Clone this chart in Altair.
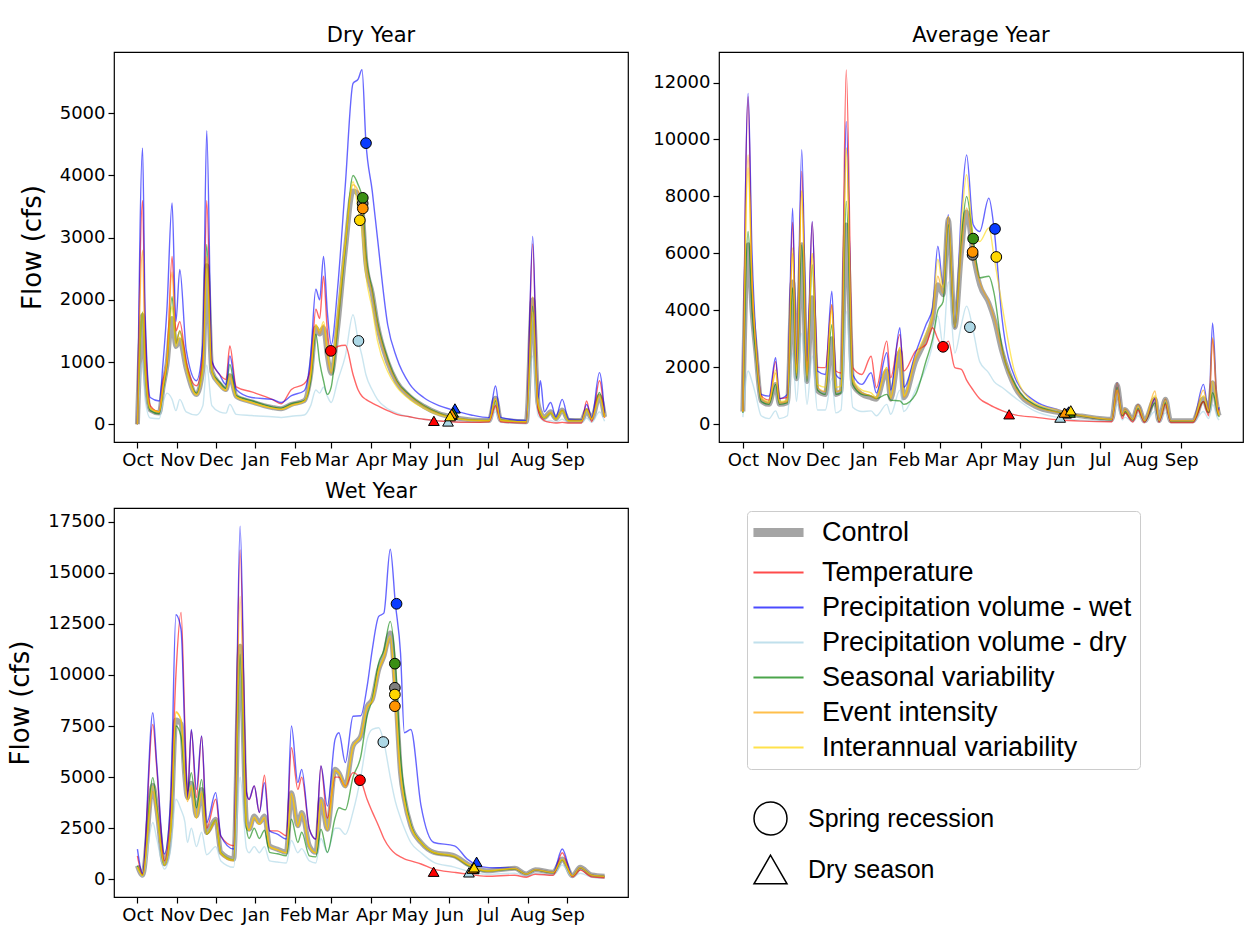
import altair as alt
import pandas as pd

SERIES = ["Control", "Temperature", "Precipitation volume - wet", "Precipitation volume - dry",
          "Seasonal variability", "Event intensity", "Interannual variability"]
LINE_COLORS = ["#808080", "#ff0000", "#0000ff", "#a6d4e4", "#008000", "#ffa500", "#ffd700"]
MARKER_FILLS = ["#7f7f7f", "#ff0000", "#0a3cff", "#add8e6", "#3a8f14", "#ff9400", "#ffd700"]
DRAW_ORDER = ["Precipitation volume - dry", "Seasonal variability", "Temperature",
              "Precipitation volume - wet", "Event intensity", "Interannual variability"]
KINDS = ["Spring recession", "\u2002Dry season"]

MONTH_DAYS = [0, 31, 61, 92, 123, 151, 182, 212, 243, 273, 304, 335]
MONTH_NAMES = ["Oct", "Nov", "Dec", "Jan", "Feb", "Mar", "Apr", "May", "Jun", "Jul", "Aug", "Sep"]

# ---------------- Dry year ----------------
dry_days = [0, 4, 6, 10, 17, 20, 23, 27, 30, 33, 38, 46, 51, 54, 58, 64, 69, 72, 77, 89, 105, 112, 120, 130, 135,
            139, 142, 145, 148, 151, 156, 162, 168, 172, 175, 178, 183, 187, 195, 202, 212, 223, 235, 244, 260,
            274, 279, 283, 303, 308, 312, 314, 317, 322, 326, 331, 336, 346, 350, 354, 360, 364]
dry_control = [0, 1750, 900, 230, 180, 600, 950, 1700, 1250, 1350, 900, 480, 900, 2550, 850, 650, 560, 780, 450, 360,
               270, 250, 320, 380, 800, 1550, 1450, 1550, 1100, 820, 1550, 2800, 3750, 3700, 3450, 2600, 2100, 1600,
               1000, 680, 450, 290, 170, 120, 70, 60, 420, 70, 40, 2000, 350, 200, 110, 200, 90, 230, 60, 60, 220,
               90, 450, 120]
dry_temperature = [0, 3600, 1500, 300, 200, 700, 1000, 2700, 1500, 1650, 1000, 620, 1100, 3600, 1000, 800, 720, 1260,
                   600, 520, 400, 330, 560, 650, 900, 1850, 1700, 2380, 1500, 1150, 1250, 1270, 800, 550, 450, 400,
                   340, 300, 220, 160, 120, 80, 55, 40, 30, 40, 300, 40, 20, 2900, 250, 120, 60, 30, 20, 30, 20, 20,
                   375, 40, 700, 100]
dry_precip_wet = [0, 4440, 1800, 430, 375, 1000, 1850, 3560, 1650, 2490, 1200, 700, 1300, 4720, 1020, 800, 640, 1100,
                  560, 430, 400, 350, 460, 540, 1100, 2170, 2000, 2700, 1800, 1280, 2190, 3850, 5480, 5550, 5700,
                  4550, 3745, 3000, 1600, 1070, 650, 430, 300, 240, 150, 107, 615, 110, 60, 3020, 400, 700, 200, 350,
                  120, 400, 80, 70, 320, 110, 830, 180]
dry_precip_dry = [0, 1000, 400, 100, 90, 350, 500, 400, 220, 400, 200, 150, 300, 950, 300, 200, 180, 320, 160, 140,
                  120, 110, 130, 150, 300, 550, 500, 600, 450, 350, 700, 1100, 1760, 1350, 1100, 800, 550, 400, 250,
                  180, 120, 80, 50, 40, 30, 30, 200, 30, 20, 1100, 150, 100, 50, 60, 30, 80, 20, 20, 100, 30, 200, 50]
dry_seasonal = [0, 1800, 900, 220, 170, 550, 950, 2050, 1300, 1500, 950, 500, 950, 2890, 850, 680, 580, 960, 460, 380,
                280, 260, 330, 380, 700, 1450, 1000, 700, 480, 600, 1550, 2850, 4000, 3850, 3650, 2750, 2150, 1650,
                1050, 700, 470, 300, 180, 120, 70, 60, 380, 70, 40, 1900, 320, 180, 100, 180, 90, 220, 60, 60, 240,
                90, 510, 120]
dry_event = [0, 2800, 1000, 260, 200, 600, 1000, 2450, 1300, 1500, 950, 480, 950, 2700, 850, 640, 540, 800, 440, 350,
             260, 240, 310, 370, 780, 1600, 1450, 1600, 1100, 820, 1600, 2900, 3850, 3750, 3470, 2650, 2100, 1600,
             1000, 680, 450, 290, 170, 120, 70, 60, 420, 70, 40, 2050, 350, 200, 110, 200, 90, 230, 60, 60, 250, 90,
             470, 120]
dry_interannual = [0, 1800, 850, 250, 200, 600, 1000, 1900, 1250, 1400, 900, 470, 900, 2500, 850, 620, 550, 750, 440,
                   350, 260, 240, 300, 370, 800, 1600, 1500, 1650, 1200, 850, 1800, 2900, 3900, 3450, 3100, 2400,
                   1850, 1350, 850, 600, 400, 260, 150, 110, 60, 55, 400, 60, 40, 1800, 330, 200, 100, 180, 80, 210,
                   50, 50, 230, 80, 440, 110]
dry_spring_day = [175.5, 150.7, 178.1, 172.2, 175.6, 175.6, 173.3]
dry_spring_flow = [3550, 1180, 4520, 1340, 3640, 3470, 3280]
dry_season_day = [245, 231, 247.4, 242, 246, 245, 243.6]
dry_season_flow = [150, 55, 255, 45, 190, 170, 130]

# ---------------- Average year ----------------
avg_days = [0, 4, 7, 10, 14, 20, 25, 28, 34, 38, 41, 45, 49, 53, 57, 63, 68, 71, 75, 79, 84, 91, 98, 102, 110, 113,
            120, 123, 132, 140, 145, 149, 153, 157, 162, 167, 171, 176, 181, 188, 192, 198, 208, 223, 242, 259, 282,
            286, 290, 292, 298, 302, 307, 315, 318, 323, 327, 344, 352, 356, 359, 363, 364]
avg_control = [450, 6300, 4000, 2500, 820, 700, 1400, 700, 760, 5000, 1600, 6300, 1500, 4440, 1170, 1050, 3000, 1050,
               1170, 7000, 1400, 1050, 930, 880, 1870, 880, 2550, 930, 2200, 3000, 3700, 4900, 4550, 7200, 3400, 6000,
               7450, 5950, 4900, 4250, 3700, 2550, 1300, 640, 400, 290, 175, 1400, 350, 520, 175, 640, 120, 880, 130,
               880, 120, 120, 900, 470, 1460, 470, 300]
avg_temperature = [450, 11500, 5000, 2800, 1000, 850, 2200, 900, 950, 7100, 2000, 8880, 1800, 7100, 2000, 1990, 4200,
                   1870, 1800, 12440, 1990, 1750, 2390, 1285, 2920, 1635, 3150, 1870, 2570, 2800, 3390, 3000, 2720,
                   2920, 1990, 1930, 1550, 1200, 900, 700, 600, 480, 330, 250, 150, 110, 90, 1200, 200, 400, 80, 500,
                   60, 900, 70, 700, 60, 60, 800, 300, 3000, 400, 550]
avg_precip_wet = [500, 11620, 6000, 3000, 1050, 990, 2340, 900, 1050, 7590, 2100, 9640, 2220, 7125, 1870, 1750, 4670,
                  1750, 1600, 10630, 1750, 1400, 1810, 1100, 2510, 1200, 3390, 1300, 2500, 3500, 4090, 6250, 4905,
                  7360, 3390, 7500, 9460, 7010, 6770, 7940, 6860, 3740, 1635, 820, 500, 300, 180, 1460, 350, 520, 175,
                  700, 120, 900, 130, 880, 120, 120, 1400, 470, 3560, 500, 600]
avg_precip_dry = [250, 1870, 1500, 1000, 300, 200, 470, 200, 300, 2500, 800, 3200, 700, 2400, 500, 500, 1600, 400,
                  500, 3970, 600, 450, 470, 300, 700, 350, 1200, 450, 1200, 2000, 2800, 3800, 2800, 5000, 2500, 3500,
                  4150, 3300, 2200, 1800, 1500, 1300, 935, 470, 230, 140, 100, 700, 150, 250, 80, 300, 60, 450, 60,
                  400, 60, 60, 450, 200, 700, 200, 150]
avg_seasonal = [400, 6770, 4000, 2400, 800, 700, 1400, 700, 760, 4800, 1600, 6300, 1500, 5600, 1200, 1050, 3500, 1050,
                1100, 7830, 1400, 1050, 990, 900, 1050, 850, 820, 700, 1050, 2220, 3000, 4000, 4300, 7010, 3400, 6500,
                8000, 6520, 5140, 5200, 4600, 2700, 1400, 680, 420, 280, 160, 1300, 300, 450, 150, 550, 100, 750, 110,
                750, 100, 100, 800, 400, 1110, 400, 250]
avg_event = [450, 9460, 5000, 2700, 900, 750, 1800, 750, 800, 6000, 1700, 8180, 1600, 6000, 1300, 1150, 4200, 1150,
             1200, 9700, 1500, 1100, 1000, 900, 2000, 900, 2700, 950, 2300, 3000, 3700, 5200, 4600, 7300, 3400, 6100,
             7600, 6050, 5000, 4300, 3750, 2600, 1300, 650, 410, 290, 175, 1450, 350, 550, 175, 700, 120, 1170, 130,
             900, 120, 120, 1200, 470, 3040, 470, 300]
avg_interannual = [450, 9000, 5000, 2700, 950, 800, 1900, 800, 850, 6200, 1800, 8200, 1700, 6000, 1400, 1300, 4000,
                   1300, 1350, 9700, 1600, 1200, 1100, 950, 2000, 950, 2700, 1000, 2400, 3200, 3900, 5800, 4800, 7300,
                   3400, 7000, 8760, 6600, 6420, 6890, 5875, 4200, 1800, 750, 490, 310, 180, 1200, 350, 500, 175, 650,
                   120, 1000, 130, 850, 120, 120, 1000, 470, 1500, 470, 320]
avg_spring_day = [175.6, 153, 192.7, 173.5, 176, 175.6, 193.7]
avg_spring_flow = [5950, 2720, 6860, 3410, 6520, 6050, 5875]
avg_season_day = [247, 203.5, 249, 242.5, 250, 245.8, 250.6]
avg_season_flow = [380, 350, 450, 234, 410, 410, 490]

# ---------------- Wet year ----------------
wet_days = [0, 4, 12, 15, 21, 26, 30, 34, 37, 39, 42, 46, 50, 54, 61, 65, 75, 80, 85, 87, 91, 95, 99, 103, 109, 116,
            120, 125, 128, 134, 139, 143, 148, 154, 157, 162, 168, 174, 179, 183, 188, 192, 197, 201, 205, 208, 213,
            221, 231, 247, 257, 272, 294, 303, 310, 324, 331, 339, 345, 354, 364]
wet_control = [670, 200, 4600, 3500, 750, 2600, 7800, 7600, 5000, 4000, 4700, 3100, 4400, 2300, 2940, 1320, 990,
               11400, 2780, 2450, 3100, 2780, 3100, 1640, 1480, 1320, 4240, 2620, 3270, 1640, 1320, 3920, 2450, 5380,
               5200, 4570, 6520, 7000, 8470, 8800, 10260, 10910, 12050, 9370, 5220, 3920, 2620, 1800, 1320, 1150,
               750, 420, 540, 260, 470, 340, 990, 180, 585, 210, 150]
wet_temperature = [1150, 250, 7580, 5500, 900, 3590, 10000, 13060, 7500, 4000, 7300, 4000, 7000, 2500, 3920, 2100,
                   1640, 16110, 4240, 3900, 4570, 3270, 5090, 2370, 2370, 2130, 6440, 4400, 5000, 2450, 1970, 5545,
                   3000, 5000, 5000, 4570, 5220, 4850, 3900, 3300, 2600, 2000, 1500, 1250, 1100, 1000, 900, 750, 500,
                   340, 250, 150, 200, 100, 250, 200, 1300, 120, 450, 120, 80]
wet_precip_wet = [1480, 300, 8150, 5710, 1235, 4000, 12940, 12210, 7000, 3920, 7330, 4400, 7010, 2780, 4240, 2130,
                  1480, 17280, 4240, 3920, 4570, 3270, 4730, 2370, 2210, 1970, 7500, 4730, 5380, 2450, 1970, 5545,
                  3590, 6845, 7170, 5710, 7980, 8000, 9450, 11240, 12860, 13020, 16150, 13480, 11070, 7170, 7330,
                  3590, 1800, 1640, 990, 585, 540, 260, 470, 340, 1480, 180, 585, 210, 150]
wet_precip_dry = [600, 150, 2780, 2000, 500, 1500, 3920, 3400, 2800, 1800, 2500, 1600, 2300, 1200, 1600, 900, 590,
                  5000, 1500, 1300, 1600, 1300, 1600, 900, 850, 800, 1900, 1300, 1500, 900, 800, 2000, 1300, 2500,
                  2500, 2200, 3300, 5000, 6845, 7330, 7415, 6715, 5000, 3800, 3000, 2500, 1800, 1300, 830, 600, 400,
                  250, 300, 150, 300, 200, 700, 100, 300, 100, 80]
wet_seasonal = [670, 200, 4975, 3600, 700, 2500, 7500, 7000, 5000, 4300, 5220, 3500, 4890, 2200, 2900, 1300, 950,
                11000, 2500, 2000, 2500, 2000, 2400, 1320, 1250, 1150, 2940, 1800, 2300, 1150, 1100, 2450, 1320, 3000,
                3500, 3400, 5000, 6000, 8000, 8800, 10590, 11200, 12620, 10550, 6000, 4200, 2700, 1800, 1300, 1100,
                700, 400, 500, 250, 450, 320, 950, 170, 560, 200, 140]
wet_event = [600, 180, 4300, 3300, 700, 2400, 8200, 7800, 5000, 3800, 4500, 3000, 4200, 2200, 2800, 1250, 900, 13840,
             2700, 2400, 3000, 2700, 3000, 1600, 1450, 1300, 4200, 2600, 3200, 1600, 1300, 3900, 2400, 5300, 5200,
             4500, 6500, 7000, 8400, 8700, 10200, 10800, 11800, 8470, 5000, 3800, 2600, 1780, 1300, 1100, 720, 400,
             520, 250, 460, 330, 950, 170, 570, 200, 140]
wet_interannual = [600, 180, 4570, 3400, 700, 2500, 8150, 7800, 5000, 3900, 4600, 3000, 4300, 2250, 2900, 1300, 950,
                   11500, 2700, 2400, 3050, 2700, 3050, 1600, 1450, 1300, 4200, 2600, 3250, 1600, 1300, 3900, 2450,
                   5350, 5200, 4550, 6500, 7000, 8450, 8750, 10250, 10900, 11900, 9040, 5200, 3900, 2600, 1800, 1320,
                   1150, 750, 420, 540, 260, 470, 340, 990, 180, 585, 210, 150]
wet_spring_day = [200.6, 173.4, 201.9, 191.6, 200.6, 200.6, 200.6]
wet_spring_flow = [9370, 4850, 13480, 6715, 10550, 8470, 9040]
wet_season_day = [262, 230.8, 264.3, 258.3, 262, 261, 262.3]
wet_season_flow = [500, 370, 860, 340, 550, 520, 585]

XDOMAIN = [-18.25, 382.25]
LABEL_EXPR = ("[" + ",".join("'%s'" % m for m in MONTH_NAMES) + "][indexof(["
              + ",".join(str(d) for d in MONTH_DAYS) + "], datum.value)]")


def build_lines(days, lists):
    rows = []
    for name in ["Control"] + DRAW_ORDER:
        vals = lists[SERIES.index(name)]
        assert len(vals) == len(days), (name, len(vals), len(days))
        for d, v in zip(days, vals):
            rows.append({"day": d, "flow": v, "series": name})
    return pd.DataFrame(rows)


def build_points(sd, sf, dd, df_):
    rows = []
    for i, name in enumerate(SERIES):
        rows.append({"day": sd[i], "flow": sf[i], "series": name, "kind": KINDS[0]})
    for i, name in enumerate(SERIES):
        rows.append({"day": dd[i], "flow": df_[i], "series": name, "kind": KINDS[1]})
    return pd.DataFrame(rows)


line_legend = alt.Legend(
    title=None, orient="none", legendX=633, legendY=459,
    labelFont="Liberation Sans", labelFontSize=27, labelColor="black", labelLimit=600,
    symbolType="M-1.67,0L1.67,0", symbolSize=900, symbolOffset=10, labelOffset=30,
    symbolOpacity=0.7, symbolStrokeWidth={"expr": "datum.value == 'Control' ? 9 : 2.2"},
    rowPadding=7, padding=8, strokeColor="#cccccc", fillColor="white", cornerRadius=4,
)
shape_legend = alt.Legend(
    title=None, orient="none", legendX=639, legendY=749,
    labelFont="Liberation Sans", labelFontSize=25, labelColor="black", labelLimit=600,
    symbolSize=1089, symbolFillColor="white", symbolStrokeColor="black", symbolStrokeWidth=1.5,
    symbolOpacity=1, labelOffset=20, rowPadding=14, padding=0,
)


def panel(title, lines_df, pts_df, ydomain, yticks, width, height, ytitle):
    x = alt.X("day:Q", scale=alt.Scale(domain=XDOMAIN, nice=False, zero=False),
              axis=alt.Axis(values=MONTH_DAYS, labelExpr=LABEL_EXPR, title=None,
                            labelOverlap=False, labelFlush=False))
    if ytitle:
        yaxis = alt.Axis(values=yticks, title=ytitle, format="d", labelOverlap=False, labelFlush=False)
    else:
        yaxis = alt.Axis(values=yticks, title=None, format="d", labelOverlap=False, labelFlush=False)
    y = alt.Y("flow:Q", scale=alt.Scale(domain=ydomain, nice=False, zero=False), axis=yaxis)
    color = alt.Color("series:N", scale=alt.Scale(domain=SERIES, range=LINE_COLORS), legend=line_legend)

    base = alt.Chart(lines_df)
    ctrl = base.transform_filter(alt.datum.series == "Control").mark_line(
        interpolate="monotone", strokeWidth=5, opacity=0.7).encode(x=x, y=y, color=color)
    others = base.transform_filter(alt.datum.series != "Control").mark_line(
        interpolate="monotone", strokeWidth=1.4, opacity=0.6).encode(x=x, y=y, color=color)
    pts = alt.Chart(pts_df).mark_point(filled=True, stroke="black", strokeWidth=1, size=115, opacity=1).encode(
        x=x, y=y,
        fill=alt.Fill("series:N", scale=alt.Scale(domain=SERIES, range=MARKER_FILLS), legend=None),
        shape=alt.Shape("kind:N", scale=alt.Scale(domain=KINDS, range=["circle", "triangle-up"]),
                        legend=shape_legend),
    )
    return alt.layer(ctrl, others, pts).properties(
        width=width, height=height, title=alt.TitleParams(title))


dry = panel("Dry Year",
            build_lines(dry_days, [dry_control, dry_temperature, dry_precip_wet, dry_precip_dry,
                                   dry_seasonal, dry_event, dry_interannual]),
            build_points(dry_spring_day, dry_spring_flow, dry_season_day, dry_season_flow),
            [-285, 5985], [0, 1000, 2000, 3000, 4000, 5000], 514, 390, "Flow (cfs)")
avg = panel("Average Year",
            build_lines(avg_days, [avg_control, avg_temperature, avg_precip_wet, avg_precip_dry,
                                   avg_seasonal, avg_event, avg_interannual]),
            build_points(avg_spring_day, avg_spring_flow, avg_season_day, avg_season_flow),
            [-622, 13072], [0, 2000, 4000, 6000, 8000, 10000, 12000], 524, 390, None)
wet = panel("Wet Year",
            build_lines(wet_days, [wet_control, wet_temperature, wet_precip_wet, wet_precip_dry,
                                   wet_seasonal, wet_event, wet_interannual]),
            build_points(wet_spring_day, wet_spring_flow, wet_season_day, wet_season_flow),
            [-865, 18165], [0, 2500, 5000, 7500, 10000, 12500, 15000, 17500], 514, 389, "Flow (cfs)")

chart = alt.concat(dry, avg, wet, columns=2, spacing={"row": 66, "column": 91}, bounds="flush").resolve_scale(
    x="independent", y="independent", color="shared", shape="shared", fill="shared"
).properties(
    padding={"left": 7, "top": 24, "right": 5, "bottom": 5}
).configure_view(
    stroke="black", strokeWidth=1.2
).configure_axis(
    labelFont="DejaVu Sans", labelFontSize=18, labelColor="black", tickColor="black", tickSize=6,
    tickWidth=1.2, domain=False, grid=False, titleFont="DejaVu Sans", titleFontSize=26,
    titleFontWeight="normal", titleColor="black", labelPadding=3
).configure_axisY(
    titlePadding=14
).configure_title(
    font="DejaVu Sans", fontSize=21, fontWeight="normal", color="black", offset=6
)

chart.save("out.html", embed_options={"renderer": "svg", "actions": False})
